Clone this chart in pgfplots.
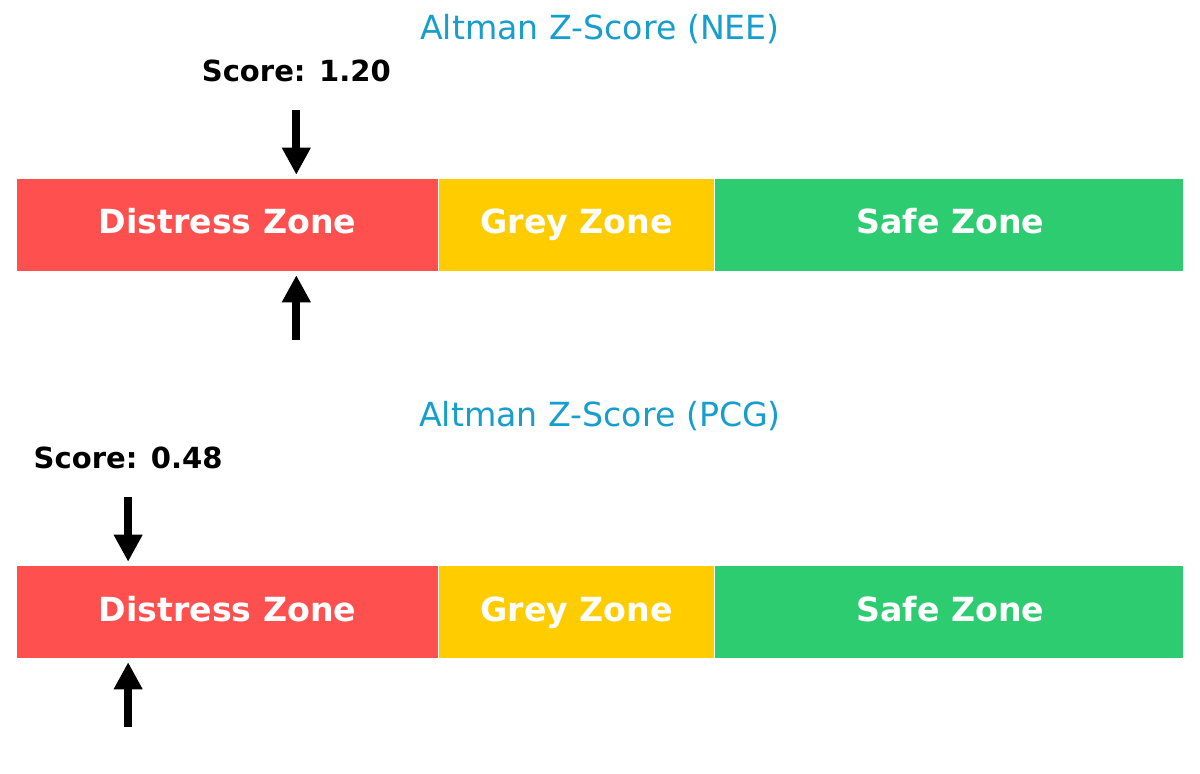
\documentclass[border=0pt]{standalone}
\usepackage{pgfplots}
\pgfplotsset{compat=1.18}
\usepackage{fontspec}
\setmainfont{DejaVu Sans}
\usetikzlibrary{arrows.meta}

\definecolor{distress}{HTML}{FF5050}
\definecolor{grey}{HTML}{FFCC00}
\definecolor{safe}{HTML}{2ECC71}
\definecolor{titleblue}{RGB}{23,158,204}

% zone limits: 0 - 1.81 - 2.99 - 5, bar from y=-0.5 to 0.5
\pgfplotsset{
  zscore/.style={
    width=560.64bp, height=185.76bp, scale only axis,
    xmin=0, xmax=5, ymin=-1.742, ymax=2.419,
    hide axis, clip=false,
  },
  zone/.style={fill=#1, draw=white, line width=0.6bp, mark=none},
  arr/.style={black, line width=4bp, line cap=butt, mark=none,
    -{Triangle[length=13bp,width=13bp]}},
  zonelabels/.style={only marks, mark=none,
    nodes near coords, point meta=explicit symbolic,
    every node near coord/.append style={anchor=base, text=white, inner sep=0pt,
      font=\bfseries\fontsize{16}{19}\selectfont}},
}

\begin{document}
\begin{tikzpicture}
\path[use as bounding box] (0,0) rectangle (576bp,371.52bp);

% NEE
\begin{axis}[zscore, at={(7.68bp,185.76bp)}, anchor=south west]
\addplot[zone=distress] coordinates {(0,-0.5) (1.81,-0.5) (1.81,0.5) (0,0.5)} -- cycle;
\addplot[zone=grey] coordinates {(1.81,-0.5) (2.99,-0.5) (2.99,0.5) (1.81,0.5)} -- cycle;
\addplot[zone=safe] coordinates {(2.99,-0.5) (5,-0.5) (5,0.5) (2.99,0.5)} -- cycle;
\addplot[zonelabels] coordinates {(0.905,-0.097)[Distress Zone] (2.4,-0.097)[Grey Zone] (4.0,-0.097)[Safe Zone]};
\addplot[arr] coordinates {(1.20,1.24) (1.20,0.54)};
\addplot[arr] coordinates {(1.20,-1.24) (1.20,-0.54)};
\node[anchor=base, font=\bfseries\fontsize{14}{17}\selectfont] at (axis cs:1.20,1.541) {Score: 1.20};
\node[anchor=base, text=titleblue, font=\fontsize{16}{19}\selectfont] at (axis cs:2.5,1.989) {Altman Z-Score (NEE)};
\end{axis}

% PCG
\begin{axis}[zscore, at={(7.68bp,0bp)}, anchor=south west]
\addplot[zone=distress] coordinates {(0,-0.5) (1.81,-0.5) (1.81,0.5) (0,0.5)} -- cycle;
\addplot[zone=grey] coordinates {(1.81,-0.5) (2.99,-0.5) (2.99,0.5) (1.81,0.5)} -- cycle;
\addplot[zone=safe] coordinates {(2.99,-0.5) (5,-0.5) (5,0.5) (2.99,0.5)} -- cycle;
\addplot[zonelabels] coordinates {(0.905,-0.097)[Distress Zone] (2.4,-0.097)[Grey Zone] (4.0,-0.097)[Safe Zone]};
\addplot[arr] coordinates {(0.48,1.24) (0.48,0.54)};
\addplot[arr] coordinates {(0.48,-1.24) (0.48,-0.54)};
\node[anchor=base, font=\bfseries\fontsize{14}{17}\selectfont] at (axis cs:0.48,1.541) {Score: 0.48};
\node[anchor=base, text=titleblue, font=\fontsize{16}{19}\selectfont] at (axis cs:2.5,1.989) {Altman Z-Score (PCG)};
\end{axis}
\end{tikzpicture}
\end{document}
